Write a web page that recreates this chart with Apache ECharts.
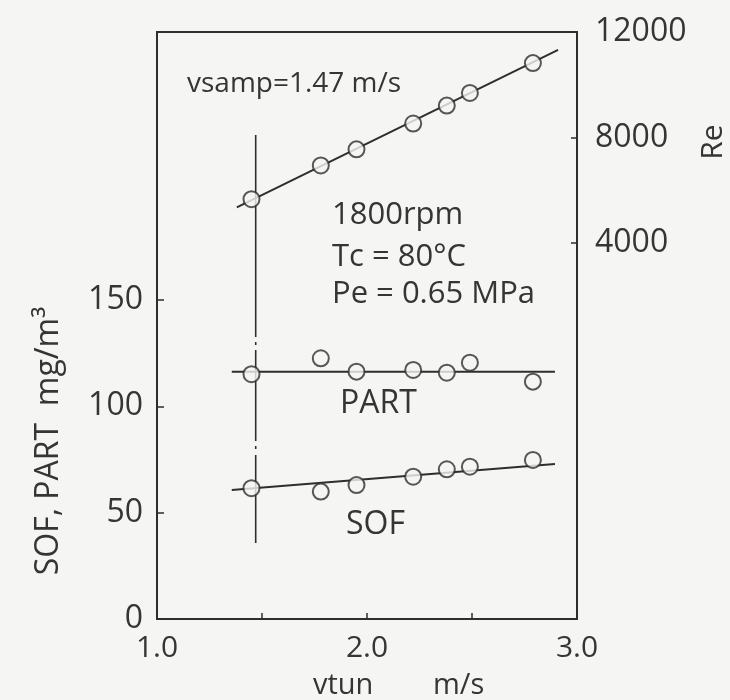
<!DOCTYPE html>
<html>
<head>
<meta charset="utf-8">
<script src="https://cdn.jsdelivr.net/npm/echarts@6/dist/echarts.min.js"></script>
<style>
html,body{margin:0;padding:0;background:#f5f5f3;}
#c{width:730px;height:700px;}
</style>
</head>
<body>
<div id="c"></div>
<script>
// ---- data ----
const vtun = [1.45, 1.78, 1.95, 2.22, 2.38, 2.49, 2.79];
const reValues = [5660, 6940, 7550, 8530, 9210, 9690, 10820];
const partValues = [115.1, 122.6, 116.3, 117.1, 115.8, 120.5, 111.6];
const sofValues = [61.5, 59.9, 63.0, 66.9, 70.4, 71.6, 74.8];
const reFitX = [1.38, 2.91];
const reFitY = [5350, 11320];
const partFitX = [1.356, 2.895];
const partFitY = [116.3, 116.3];
const sofFitX = [1.356, 2.895];
const sofFitY = [60.7, 72.9];
const vsampX = [1.47, 1.47];
const vsampY = [227.6, 35.7];
const xTickLabels = ['1.0', '2.0', '3.0'];
const leftTickLabels = ['0', '50', '100', '150'];
const rightTickLabels = ['4000', '8000', '12000'];

const INK = '#2e2e2e';
const TXT = '#353535';
const BG = '#f5f5f3';
const FONT = '"Open Sans", sans-serif';

function pairs(xs, ys){ return xs.map((x,i)=>[x, ys[i]]); }

const chart = echarts.init(document.getElementById('c'), null, {renderer:'canvas'});

const gl = 157, gw = 420;
const option = {
  backgroundColor: BG,
  animation: false,
  grid: [
    {left: gl, top: 32, width: gw, height: 587, show: true, borderColor: INK, borderWidth: 2, backgroundColor: 'transparent'},
    {left: gl, top: 300, width: gw, height: 319},
    {left: gl, top: 32, width: gw, height: 211}
  ],
  xAxis: [
    {gridIndex: 0, type: 'value', min: 1, max: 3, interval: 0.5,
     axisLine: {show: true, lineStyle: {color: INK, width: 2}},
     axisTick: {show: true, inside: true, length: 6, lineStyle: {color: INK, width: 1.5}},
     splitLine: {show: false},
     axisLabel: {show: true, margin: 14, color: TXT, fontFamily: FONT, fontSize: 30,
       formatter: v => { const s = v.toFixed(1); return xTickLabels.includes(s) ? s : ''; }}},
    {gridIndex: 1, type: 'value', min: 1, max: 3, show: false},
    {gridIndex: 2, type: 'value', min: 1, max: 3, show: false}
  ],
  yAxis: [
    {gridIndex: 0, type: 'value', min: 0, max: 276, show: false},
    {gridIndex: 1, type: 'value', min: 0, max: 150, interval: 50, position: 'left',
     axisLine: {show: false},
     axisTick: {show: true, inside: true, length: 7, lineStyle: {color: INK, width: 1.5}},
     splitLine: {show: false},
     axisLabel: {margin: 14, color: TXT, fontFamily: FONT, fontSize: 32,
       formatter: v => leftTickLabels.includes(String(v)) ? String(v) : ''}},
    {gridIndex: 2, type: 'value', min: 4000, max: 12000, interval: 4000, position: 'right',
     axisLine: {show: false},
     axisTick: {show: true, inside: true, length: 6, lineStyle: {color: INK, width: 1.5}},
     splitLine: {show: false},
     axisLabel: {margin: 18, color: TXT, fontFamily: FONT, fontSize: 32,
       formatter: v => rightTickLabels.includes(String(v)) ? String(v) : ''}}
  ],
  series: [
    {type: 'line', xAxisIndex: 0, yAxisIndex: 0, data: pairs(vsampX, vsampY), symbol: 'none',
     lineStyle: {color: INK, width: 1.6, type: [202, 5, 3, 5, 91, 5, 3, 6, 200]}, z: 2},
    {type: 'line', xAxisIndex: 2, yAxisIndex: 2, data: pairs(reFitX, reFitY), symbol: 'none',
     lineStyle: {color: INK, width: 2}, z: 3},
    {type: 'line', xAxisIndex: 1, yAxisIndex: 1, data: pairs(partFitX, partFitY), symbol: 'none',
     lineStyle: {color: INK, width: 2}, z: 3},
    {type: 'line', xAxisIndex: 1, yAxisIndex: 1, data: pairs(sofFitX, sofFitY), symbol: 'none',
     lineStyle: {color: INK, width: 2}, z: 3},
    {type: 'scatter', xAxisIndex: 2, yAxisIndex: 2, data: pairs(vtun, reValues), symbol: 'circle', symbolSize: 16,
     itemStyle: {color: BG, borderColor: INK, borderWidth: 2}, z: 5},
    {type: 'scatter', xAxisIndex: 1, yAxisIndex: 1, data: pairs(vtun, partValues), symbol: 'circle', symbolSize: 16,
     itemStyle: {color: BG, borderColor: INK, borderWidth: 2}, z: 5},
    {type: 'scatter', xAxisIndex: 1, yAxisIndex: 1, data: pairs(vtun, sofValues), symbol: 'circle', symbolSize: 16,
     itemStyle: {color: BG, borderColor: INK, borderWidth: 2}, z: 5}
  ],
  graphic: [
    {type: 'text', x: 187, y: 84, style: {text: 'vsamp=1.47 m/s', font: '28px ' + FONT, fill: TXT, align: 'left', verticalAlign: 'middle'}},
    {type: 'text', x: 332, y: 215, style: {text: '1800rpm', font: '31px ' + FONT, fill: TXT, align: 'left', verticalAlign: 'middle'}},
    {type: 'text', x: 332, y: 257, style: {text: 'Tc = 80°C', font: '31px ' + FONT, fill: TXT, align: 'left', verticalAlign: 'middle'}},
    {type: 'text', x: 332, y: 294, style: {text: 'Pe = 0.65 MPa', font: '31px ' + FONT, fill: TXT, align: 'left', verticalAlign: 'middle'}},
    {type: 'text', x: 340, y: 404, style: {text: 'PART', font: '32px ' + FONT, fill: TXT, align: 'left', verticalAlign: 'middle'}},
    {type: 'text', x: 346, y: 525, style: {text: 'SOF', font: '32px ' + FONT, fill: TXT, align: 'left', verticalAlign: 'middle'}},
    {type: 'text', x: 313, y: 686, style: {text: 'vtun', font: '29px ' + FONT, fill: TXT, align: 'left', verticalAlign: 'middle'}},
    {type: 'text', x: 433, y: 686, style: {text: 'm/s', font: '29px ' + FONT, fill: TXT, align: 'left', verticalAlign: 'middle'}},
    {type: 'text', x: 49, y: 441, rotation: Math.PI / 2, style: {text: 'SOF, PART  mg/m³', font: '32px ' + FONT, fill: TXT, align: 'center', verticalAlign: 'middle'}},
    {type: 'text', x: 713, y: 142, rotation: Math.PI / 2, style: {text: 'Re', font: '30px ' + FONT, fill: TXT, align: 'center', verticalAlign: 'middle'}}
  ]
};
chart.setOption(option);
</script>
</body>
</html>
